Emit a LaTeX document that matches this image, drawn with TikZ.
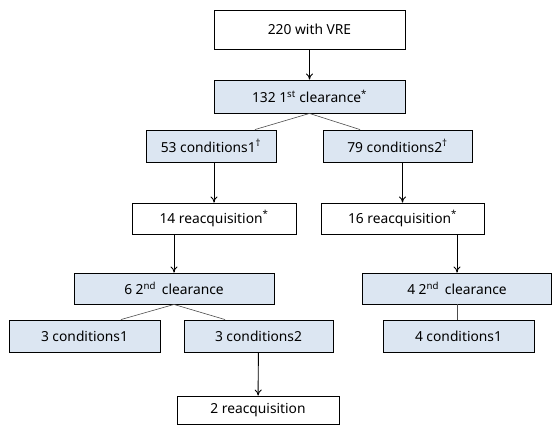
\documentclass[tikz,border=0pt]{standalone}
\usepackage{fontspec}
\setmainfont{Noto Sans}
\usetikzlibrary{arrows.meta}
\definecolor{boxblue}{HTML}{DCE6F2}
\tikzset{
  box/.style={draw, line width=0.9pt, inner sep=0pt, font=\fontsize{13.8}{16}\selectfont},
  shaded/.style={box, fill=boxblue},
  arr/.style={-{To[length=6pt,width=7pt]}, line width=0.9pt},
  split/.style={draw=black!70, line width=0.6pt}
}
\begin{document}
\begin{tikzpicture}[x=1pt,y=-1pt]
\useasboundingbox (0,0) rectangle (552,426);
% first level
\node[box, minimum width=191pt, minimum height=39pt] (vre) at (309.5,29.5) {220 with VRE};
\node[shaded, minimum width=191pt, minimum height=33pt] (clr1) at (309.5,96.5) {132 1\textsuperscript{st} clearance\textsuperscript{*}};
\node[shaded, minimum width=130pt, minimum height=32pt] (condA) at (211,146) {53 conditions1\textsuperscript{\dag}};
\node[shaded, minimum width=149pt, minimum height=32pt] (condB) at (397.5,146) {79 conditions2\textsuperscript{\dag}};
% reacquisition
\node[box, minimum width=164pt, minimum height=31pt] (reqA) at (214,218.5) {14 reacquisition\textsuperscript{*}};
\node[box, minimum width=163pt, minimum height=31pt] (reqB) at (402.5,218.5) {16 reacquisition\textsuperscript{*}};
% second clearance
\node[shaded, minimum width=200pt, minimum height=31pt] (clrA) at (174,288.5) {6 2\textsuperscript{nd}\, clearance};
\node[shaded, minimum width=189pt, minimum height=31pt] (clrB) at (457,288.5) {4 2\textsuperscript{nd}\, clearance};
\node[shaded, minimum width=151pt, minimum height=32pt] (condC) at (84.5,336) {3 conditions1};
\node[shaded, minimum width=149pt, minimum height=32pt] (condD) at (258.5,336) {3 conditions2};
\node[shaded, minimum width=151pt, minimum height=32pt] (condE) at (458.5,336) {4 conditions1};
\node[box, minimum width=162pt, minimum height=28pt] (reqC) at (258,410) {2 reacquisition};
% connectors
\draw[arr] (vre) -- (clr1);
\draw[split] (clr1.south) -- (condA.north -| 255,0);
\draw[split] (clr1.south) -- (condB.north -| 360,0);
\draw[arr] (condA.south -| reqA.north) -- (reqA.north);
\draw[arr] (condB.south -| reqB.north) -- (reqB.north);
\draw[arr] (reqA.south -| clrA.north) -- (clrA.north);
\draw[arr] (reqB.south -| clrB.north) -- (clrB.north);
\draw[split] (clrA.south) -- (condC.north -| 121,0);
\draw[split] (clrA.south) -- (condD.north -| 225,0);
\draw[split] (clrB.south) -- (clrB.south |- condE.north);
\draw[arr] (condD) -- (reqC);
\end{tikzpicture}
\end{document}
